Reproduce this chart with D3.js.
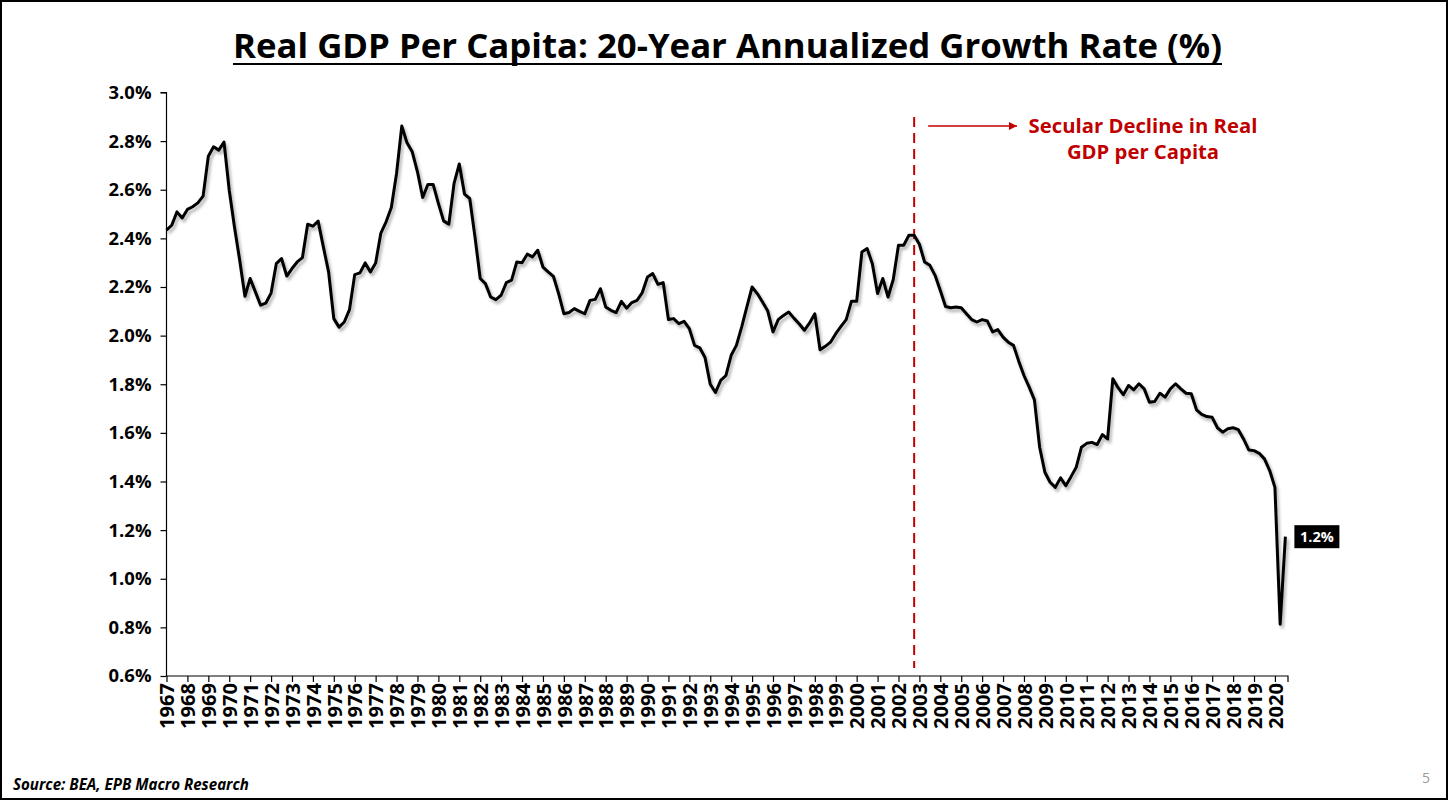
<!DOCTYPE html>
<html>
<head>
<meta charset="utf-8">
<script src="https://cdn.jsdelivr.net/npm/d3@7"></script>
<style>
  html, body { margin: 0; padding: 0; background: #fff; }
  svg { display: block; }
</style>
</head>
<body>
<svg id="chart" width="1448" height="800"></svg>
<script>
// ---- DATA ----
const titleText = "Real GDP Per Capita: 20-Year Annualized Growth Rate (%)";
const sourceText = "Source: BEA, EPB Macro Research";
const annotationLines = ["Secular Decline in Real", "GDP per Capita"];
const firstYear = 1967;           // quarterly series starts 1967 Q1
const annotationIndex = 143;      // 2002 Q4
const yearLabels = ["1967","1968","1969","1970","1971","1972","1973","1974","1975","1976",
  "1977","1978","1979","1980","1981","1982","1983","1984","1985","1986","1987","1988",
  "1989","1990","1991","1992","1993","1994","1995","1996","1997","1998","1999","2000",
  "2001","2002","2003","2004","2005","2006","2007","2008","2009","2010","2011","2012",
  "2013","2014","2015","2016","2017","2018","2019","2020"];
const yTicks = [0.6, 0.8, 1.0, 1.2, 1.4, 1.6, 1.8, 2.0, 2.2, 2.4, 2.6, 2.8, 3.0];
// 20-year annualized growth rate of real GDP per capita (%), quarterly
const growth = [
  2.434, 2.454, 2.509, 2.484, 2.519, 2.530, 2.546, 2.574, 2.738, 2.777,
  2.763, 2.796, 2.598, 2.447, 2.310, 2.162, 2.235, 2.180, 2.125, 2.134,
  2.175, 2.296, 2.317, 2.245, 2.276, 2.303, 2.321, 2.458, 2.450, 2.471,
  2.365, 2.262, 2.070, 2.035, 2.056, 2.107, 2.251, 2.258, 2.299, 2.262,
  2.299, 2.422, 2.468, 2.527, 2.667, 2.862, 2.793, 2.756, 2.674, 2.568,
  2.622, 2.622, 2.544, 2.472, 2.458, 2.626, 2.706, 2.582, 2.564, 2.406,
  2.235, 2.214, 2.159, 2.148, 2.166, 2.218, 2.228, 2.303, 2.300, 2.335,
  2.324, 2.351, 2.282, 2.262, 2.244, 2.173, 2.090, 2.095, 2.111, 2.100,
  2.090, 2.145, 2.149, 2.193, 2.118, 2.104, 2.095, 2.141, 2.113, 2.136,
  2.145, 2.177, 2.241, 2.255, 2.211, 2.218, 2.066, 2.070, 2.049, 2.059,
  2.029, 1.960, 1.950, 1.910, 1.800, 1.766, 1.816, 1.836, 1.919, 1.960,
  2.035, 2.118, 2.200, 2.173, 2.138, 2.101, 2.015, 2.066, 2.083, 2.097,
  2.072, 2.049, 2.022, 2.052, 2.090, 1.942, 1.956, 1.973, 2.008, 2.038,
  2.066, 2.141, 2.141, 2.344, 2.358, 2.296, 2.173, 2.235, 2.159, 2.231,
  2.372, 2.372, 2.413, 2.413, 2.376, 2.303, 2.289, 2.248, 2.186, 2.120,
  2.115, 2.118, 2.115, 2.090, 2.066, 2.056, 2.066, 2.060, 2.015, 2.025,
  1.994, 1.973, 1.960, 1.895, 1.836, 1.788, 1.736, 1.541, 1.438, 1.397,
  1.376, 1.415, 1.383, 1.420, 1.459, 1.541, 1.557, 1.561, 1.552, 1.593,
  1.575, 1.823, 1.786, 1.757, 1.795, 1.777, 1.802, 1.781, 1.726, 1.729,
  1.763, 1.747, 1.781, 1.802, 1.781, 1.763, 1.761, 1.695, 1.676, 1.667,
  1.664, 1.621, 1.603, 1.617, 1.621, 1.613, 1.575, 1.530, 1.527, 1.516,
  1.493, 1.445, 1.376, 0.813, 1.173
];

// ---- CHART ----
const svg = d3.select("#chart");
const FONT = "'Open Sans', 'Noto Sans', sans-serif";
const red = "#C00000";

// scale a text selection's font-size so its first node measures targetWidth
function fitFont(sel, base, targetWidth) {
  sel.attr("font-size", base);
  const w = sel.node().getComputedTextLength();
  const size = base * targetWidth / w;
  sel.attr("font-size", size);
  return size;
}

const plot = { left: 166.5, right: 1288, top: 92.5, bottom: 676 };
const x = d3.scaleLinear().domain([0, growth.length - 0.5]).range([plot.left, plot.right]);
const y = d3.scaleLinear().domain([0.6, 3.0]).range([plot.bottom, plot.top]);

// frame
svg.append("rect").attr("x", 1).attr("y", 1).attr("width", 1446).attr("height", 798)
  .attr("fill", "#fff").attr("stroke", "#000").attr("stroke-width", 2);

// shadow filter
const defs = svg.append("defs");
const f = defs.append("filter").attr("id", "shadow").attr("x", "-5%").attr("y", "-5%")
  .attr("width", "110%").attr("height", "110%");
f.append("feDropShadow").attr("dx", 2).attr("dy", 3).attr("stdDeviation", 1.8)
  .attr("flood-color", "#000").attr("flood-opacity", 0.3);
defs.append("marker").attr("id", "arrow").attr("viewBox", "0 0 10 10")
  .attr("refX", 10).attr("refY", 5).attr("markerWidth", 10).attr("markerHeight", 8)
  .attr("markerUnits", "userSpaceOnUse").attr("orient", "auto")
  .append("path").attr("d", "M0,0 L10,5 L0,10 Z").attr("fill", red);

// title
const title = svg.append("text").attr("x", 727.5).attr("y", 58).attr("text-anchor", "middle")
  .attr("font-family", FONT).attr("font-weight", 700)
  .attr("fill", "#000").text(titleText);
fitFont(title, 34, 989);
svg.append("line").attr("x1", 233).attr("x2", 1222).attr("y1", 64).attr("y2", 64)
  .attr("stroke", "#000").attr("stroke-width", 2.2);

// y axis
const yAxis = d3.axisLeft(y).tickValues(yTicks).tickSize(6).tickPadding(9)
  .tickFormat(d => d3.format(".1f")(d) + "%");
const gy = svg.append("g").attr("transform", `translate(${plot.left},0)`).call(yAxis);
gy.select(".domain").attr("stroke", "#000").attr("stroke-width", 1.2).attr("d", `M-6,${plot.top}H0V${plot.bottom}`);
gy.selectAll(".tick line").attr("stroke", "#000").attr("stroke-width", 1.2);
const yText = gy.selectAll(".tick text").attr("font-family", FONT).attr("font-weight", 700)
  .attr("fill", "#000");
{
  const s = fitFont(gy.selectAll(".tick text").filter(d => d === 3.0), 15, 43);
  yText.attr("font-size", s);
}

// x axis
const xTickIdx = yearLabels.map((d, i) => i * 4);
const xAxis = d3.axisBottom(x).tickValues(xTickIdx).tickSize(6).tickFormat((d, i) => yearLabels[i]);
const gx = svg.append("g").attr("transform", `translate(0,${plot.bottom})`).call(xAxis);
gx.select(".domain").attr("stroke", "#000").attr("stroke-width", 1.2)
  .attr("d", `M${plot.left},0H${plot.right}V6`);
gx.selectAll(".tick line").attr("stroke", "#000").attr("stroke-width", 1.2);
const xText = gx.selectAll(".tick text")
  .attr("font-family", FONT).attr("font-weight", 700).attr("fill", "#000")
  .attr("text-anchor", "end").attr("transform", "rotate(-90)")
  .attr("x", -7).attr("y", 0).attr("dy", "0.36em");
{
  const s = fitFont(gx.selectAll(".tick text").filter((d, i) => i === 0), 14, 46);
  xText.attr("font-size", s);
}

// dashed vertical annotation line
svg.append("line").attr("x1", x(annotationIndex)).attr("x2", x(annotationIndex))
  .attr("y1", 117).attr("y2", plot.bottom - 8)
  .attr("stroke", red).attr("stroke-width", 2).attr("stroke-dasharray", "10,6");

// arrow
svg.append("line").attr("x1", x(annotationIndex) + 14).attr("x2", 1017)
  .attr("y1", 126).attr("y2", 126).attr("stroke", red).attr("stroke-width", 1.3)
  .attr("marker-end", "url(#arrow)");

// annotation text
const ann = svg.append("text").attr("text-anchor", "middle").attr("font-family", FONT)
  .attr("font-weight", 700).attr("fill", red);
annotationLines.forEach((t, i) => {
  ann.append("tspan").attr("x", 1143).attr("y", 133 + i * 26).text(t);
});
{
  ann.attr("font-size", 18.5);
  const w = ann.select("tspan").node().getComputedTextLength();
  ann.attr("font-size", 18.5 * 229 / w);
}

// line
const line = d3.line().x((d, i) => x(i)).y(d => y(d));
svg.append("path").datum(growth).attr("d", line).attr("fill", "none")
  .attr("stroke", "#000").attr("stroke-width", 3).attr("stroke-linejoin", "round")
  .attr("filter", "url(#shadow)");

// end label
const last = growth[growth.length - 1];
const lx = x(growth.length - 1) + 9, ly = y(last);
const lbl = svg.append("g").attr("transform", `translate(${lx},${ly})`);
lbl.append("rect").attr("x", 0).attr("y", -11.5).attr("width", 45).attr("height", 23).attr("fill", "#000");
lbl.append("text").attr("x", 22.5).attr("y", 0).attr("dy", "0.36em").attr("text-anchor", "middle")
  .attr("font-family", FONT).attr("font-weight", 700).attr("font-size", 14.5).attr("fill", "#fff")
  .text(d3.format(".1f")(last) + "%");

// source
const src = svg.append("text").attr("x", 13).attr("y", 790).attr("font-family", FONT)
  .attr("font-weight", 700).attr("font-style", "italic")
  .attr("fill", "#000").text(sourceText);
fitFont(src, 14, 236);

// page number
svg.append("text").attr("x", 1422).attr("y", 783).attr("font-family", FONT)
  .attr("font-size", 14).attr("fill", "#9a9a9a").text("5");
</script>
</body>
</html>
